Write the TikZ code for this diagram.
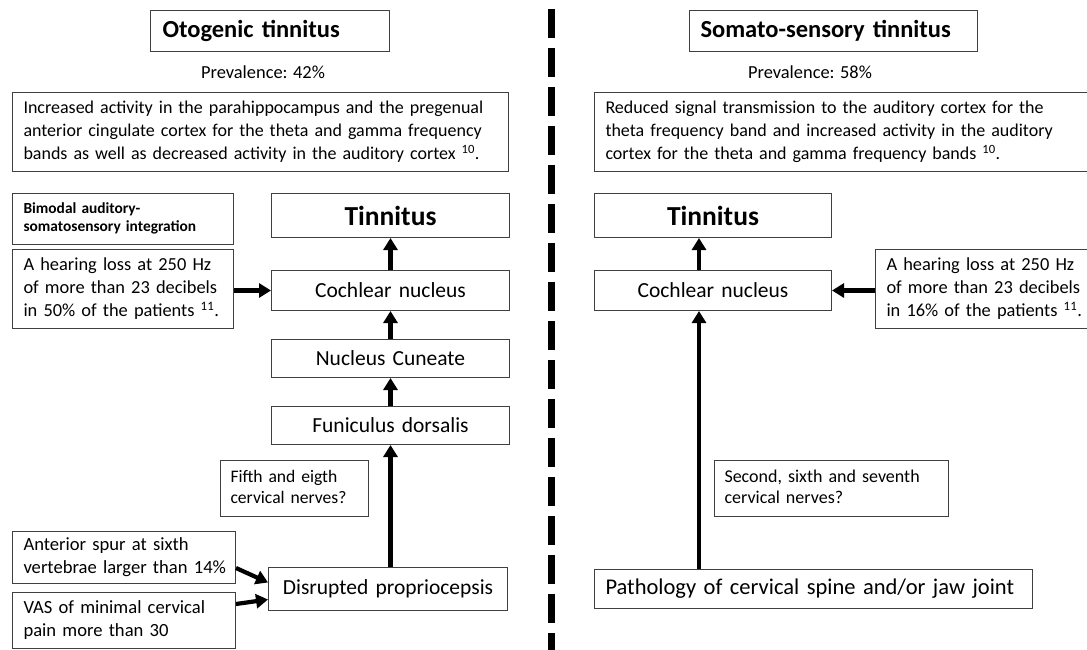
\documentclass[tikz,border=0pt]{standalone}
\usepackage{fontspec}
\setmainfont{Carlito}
\usetikzlibrary{arrows.meta}
\newcommand{\mylines}[1]{\begin{tabular}{@{}l@{}}#1\end{tabular}}
\tikzset{
  bx/.style={draw=black!75, line width=1pt, inner ysep=0pt, inner xsep=11pt, anchor=north west, fill=white},
  fs/.style 2 args={font=\fontsize{#1pt}{#2pt}\selectfont},
  arr/.style={line width=4.2pt, -{Triangle[length=12pt,width=14pt]}},
  divider/.style={line width=7pt, dash pattern=on 29pt off 10pt},
}
\begin{document}
\begin{tikzpicture}[x=1pt,y=-1pt]
\useasboundingbox (0,0) rectangle (1087,650);
\fill[white] (0,0) rectangle (1087,650);

% divider
\draw[divider] (551,9) -- (551,652);

% ---------------- left column ----------------
\node[bx, minimum width=239pt, minimum height=41pt, text width=215pt, align=left, fs={24.5}{28}, inner xsep=12pt] (oto) at (150,10) {\bfseries Otogenic tinnitus};
\node[fs={18.4}{22}, inner sep=0pt] (prevL) at (263,72) {Prevalence: 42\%};
\node[bx, minimum width=496pt, minimum height=79pt, text width=474pt, align=left, fs={18}{23}] (descL) at (12,92)
  {\mylines{Increased activity in the parahippocampus and the pregenual\\ anterior cingulate cortex for the theta and gamma frequency\\ bands as well as decreased activity in the auditory cortex \textsuperscript{10}.}};

\node[bx, minimum width=221pt, minimum height=51pt, text width=199pt, align=left, fs={15.4}{18.5}] (bimod) at (12,193)
  {\mylines{\bfseries Bimodal auditory-\\ \bfseries somatosensory integration}};
\node[bx, minimum width=238pt, minimum height=44pt, text width=216pt, align=center, fs={27.5}{30}] (tinL) at (271,193) {\bfseries Tinnitus};

\node[bx, minimum width=221pt, minimum height=79pt, text width=199pt, align=left, fs={18.4}{23}] (hearL) at (12,249)
  {\mylines{A hearing loss at 250 Hz\\ of more than 23 decibels\\ in 50\% of the patients \textsuperscript{11}.}};
\node[bx, minimum width=238pt, minimum height=40pt, text width=216pt, align=center, fs={21.5}{24}] (cochL) at (271,270) {Cochlear nucleus};
\node[bx, minimum width=238pt, minimum height=38pt, text width=216pt, align=center, fs={21.5}{24}] (cun) at (271,339) {Nucleus Cuneate};
\node[bx, minimum width=238pt, minimum height=38pt, text width=216pt, align=center, fs={21.5}{24}] (fun) at (271,406) {Funiculus dorsalis};

\node[bx, minimum width=148pt, minimum height=56pt, text width=128pt, align=left, fs={17.6}{21.5}, inner xsep=10pt] (fifth) at (220,460)
  {\mylines{Fifth and eigth\\ cervical nerves?}};
\node[bx, minimum width=223pt, minimum height=52pt, text width=201pt, align=left, fs={18.6}{23}] (spur) at (12,531)
  {\mylines{Anterior spur at sixth\\ vertebrae larger than 14\%}};
\node[bx, minimum width=223pt, minimum height=56pt, text width=201pt, align=left, fs={18.6}{23}] (vas) at (12,592)
  {\mylines{VAS of minimal cervical\\ pain more than 30}};
\node[bx, minimum width=239pt, minimum height=43pt, text width=217pt, align=center, fs={21.5}{24}] (dis) at (268,567) {Disrupted propriocepsis};

% left arrows
\draw[arr] (hearL.east |- cochL.west) -- (cochL.west);
\draw[arr] (cochL.north) -- (tinL.south);
\draw[arr] (cun.north) -- (cochL.south);
\draw[arr] (fun.north) -- (cun.south);
\draw[arr] (dis.north -| fun.south) -- (fun.south);
\draw[arr] ([yshift=16pt]spur.south east) -- ([yshift=6.5pt]dis.west);
\draw[arr] ([yshift=-12pt]vas.north east) -- ([yshift=-10.5pt]dis.west);

% ---------------- right column ----------------
\node[bx, minimum width=288pt, minimum height=41pt, text width=266pt, align=left, fs={24.5}{28}] (som) at (689,10) {\bfseries Somato-sensory tinnitus};
\node[fs={18.4}{22}, inner sep=0pt] (prevR) at (810,72) {Prevalence: 58\%};
\node[bx, minimum width=500pt, minimum height=79pt, text width=478pt, align=left, fs={18}{23}] (descR) at (594,92)
  {\mylines{Reduced signal transmission to the auditory cortex for the\\ theta frequency band and increased activity in the auditory\\ cortex for the theta and gamma frequency bands \textsuperscript{10}.}};

\node[bx, minimum width=237pt, minimum height=44pt, text width=215pt, align=center, fs={27.5}{30}] (tinR) at (594,193) {\bfseries Tinnitus};
\node[bx, minimum width=237pt, minimum height=40pt, text width=215pt, align=center, fs={21.5}{24}] (cochR) at (594,270) {Cochlear nucleus};
\node[bx, minimum width=222pt, minimum height=79pt, text width=200pt, align=left, fs={18.4}{23}] (hearR) at (875,249)
  {\mylines{A hearing loss at 250 Hz\\ of more than 23 decibels\\ in 16\% of the patients \textsuperscript{11}.}};

\node[bx, minimum width=234pt, minimum height=56pt, text width=214pt, align=left, fs={18}{21.5}, inner xsep=8pt] (second) at (714,460)
  {\mylines{Second, sixth and seventh\\ cervical nerves?}};
\node[bx, minimum width=438pt, minimum height=39pt, text width=416pt, align=left, fs={22.5}{25}] (path) at (594,569)
  {Pathology of cervical spine and/or jaw joint};

% right arrows
\coordinate (rx) at (699,0);
\draw[arr] (hearR.west |- cochR.east) -- (cochR.east);
\draw[arr] (rx |- cochR.north) -- (rx |- tinR.south);
\draw[arr] (rx |- path.north) -- (rx |- cochR.south);
\end{tikzpicture}
\end{document}
